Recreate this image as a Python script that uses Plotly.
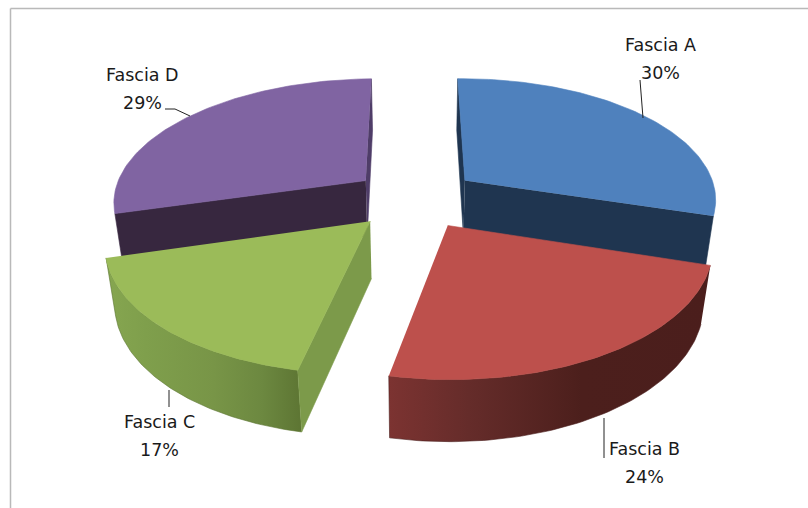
import numpy as np
import plotly.graph_objects as go

labels = ["Fascia A", "Fascia B", "Fascia C", "Fascia D"]
values = [30.0, 23.5, 17.4, 29.1]

top_colors = ["#4f81bd", "#bd504c", "#9bbb59", "#8064a2"]
wall_colors = ["#1f3550", "#4b1f1c", "#7c9a4a", "#37273f"]
edge_colors = ["#1f3550", "#4b1f1c", "#7c9a4a", "#4f3d68"]
rim_scales = [
    None,
    [[0, "#7c3331"], [0.25, "#652c2a"], [0.6, "#4c1f1c"], [1, "#4b1e1c"]],
    [[0, "#86a650"], [0.2, "#7f9f4c"], [0.55, "#789547"], [0.8, "#6c8840"], [1, "#5d7533"]],
    None,
]

CX, CY, R, C, K = 415.0, 198.4, 253.0, 122.0, 0.15
H, SHRINK, EXPLODE, ROT, SKEW = 58.0, 0.03, 0.25, -1.0, 3.0


def project(x, y, z=0.0):
    s = 1.0 / (1.0 + K * y + SHRINK * z)
    return CX + R * x * s + SKEW * y, CY - C * y * s + H * z * s


def slice_geom(a0, a1):
    mid = np.radians((a0 + a1) / 2)
    ox, oy = EXPLODE * np.sin(mid), EXPLODE * np.cos(mid)
    th = np.radians(np.linspace(a0, a1, 80))
    return ox, oy, ox + np.sin(th), oy + np.cos(th)


def poly(fig, xs, ys, color, gradient=None):
    kw = {}
    if gradient is not None:
        kw["fillgradient"] = dict(type="horizontal", colorscale=gradient,
                                  start=float(np.min(xs)), stop=float(np.max(xs)))
    else:
        kw["fillcolor"] = color
    fig.add_trace(go.Scatter(x=list(xs), y=list(ys), mode="lines", fill="toself",
                             line=dict(color=color, width=0.6), hoverinfo="skip",
                             showlegend=False, **kw))


def wall(ox, oy, ex, ey):
    pts = [project(ox, oy, 0), project(ex, ey, 0), project(ex, ey, 1), project(ox, oy, 1)]
    return [p[0] for p in pts], [p[1] for p in pts]


total = sum(values)
angles = [ROT]
for v in values:
    angles.append(angles[-1] + 360.0 * v / total)

fig = go.Figure()
geom = [slice_geom(angles[i], angles[i + 1]) for i in range(4)]

for i in [3, 0, 2, 1]:
    ox, oy, ax, ay = geom[i]
    if rim_scales[i] is not None:
        tx, ty = project(ax, ay, 0)
        bx, by = project(ax, ay, 1)
        poly(fig, np.r_[tx, bx[::-1]], np.r_[ty, by[::-1]], rim_scales[i][-1][1], rim_scales[i])
    if i == 0:
        poly(fig, *wall(ox, oy, ax[0], ay[0]), edge_colors[i])
        poly(fig, *wall(ox, oy, ax[-1], ay[-1]), wall_colors[i])
    elif i == 3:
        poly(fig, *wall(ox, oy, ax[-1], ay[-1]), edge_colors[i])
        poly(fig, *wall(ox, oy, ax[0], ay[0]), wall_colors[i])
    elif i == 2:
        poly(fig, *wall(ox, oy, ax[0], ay[0]), wall_colors[i])
    tx, ty = project(ax, ay, 0)
    ax0, ay0 = project(ox, oy, 0)
    poly(fig, np.r_[ax0, tx], np.r_[ay0, ty], top_colors[i])

# leader lines
leaders = [
    ([640, 643], [80, 118]),
    ([604, 604], [418, 458]),
    ([169, 169], [390, 407]),
    ([165, 175, 190], [109, 109, 116]),
]
for lx, ly in leaders:
    fig.add_trace(go.Scatter(x=lx, y=ly, mode="lines", line=dict(color="#222222", width=1),
                             hoverinfo="skip", showlegend=False))

label_pos = [(660, 45, 73), (644, 449, 477), (159, 422, 450), (142, 75, 103)]
font = dict(family="DejaVu Sans", size=17.5, color="#1a1a1a")
annotations = []
for name, v, (x, y1, y2) in zip(labels, values, label_pos):
    annotations.append(dict(x=x, y=y1, text=name, showarrow=False, font=font, xanchor="center", yanchor="middle"))
    annotations.append(dict(x=x, y=y2, text=f"{round(v)}%", showarrow=False, font=font, xanchor="center", yanchor="middle"))

fig.update_layout(
    width=808, height=508, margin=dict(l=0, r=0, t=0, b=0),
    paper_bgcolor="white", plot_bgcolor="white", showlegend=False,
    xaxis=dict(range=[0, 808], visible=False, fixedrange=True),
    yaxis=dict(range=[508, 0], visible=False, fixedrange=True),
    annotations=annotations,
    shapes=[
        dict(type="line", x0=10.5, x1=10.5, y0=8.5, y1=508, line=dict(color="#b9b9b9", width=1.5)),
        dict(type="line", x0=10.5, x1=808, y0=8.5, y1=8.5, line=dict(color="#b9b9b9", width=1.5)),
    ],
)
fig.write_html("out.html", post_script="document.body.style.margin='0';", config={"displayModeBar": False})
